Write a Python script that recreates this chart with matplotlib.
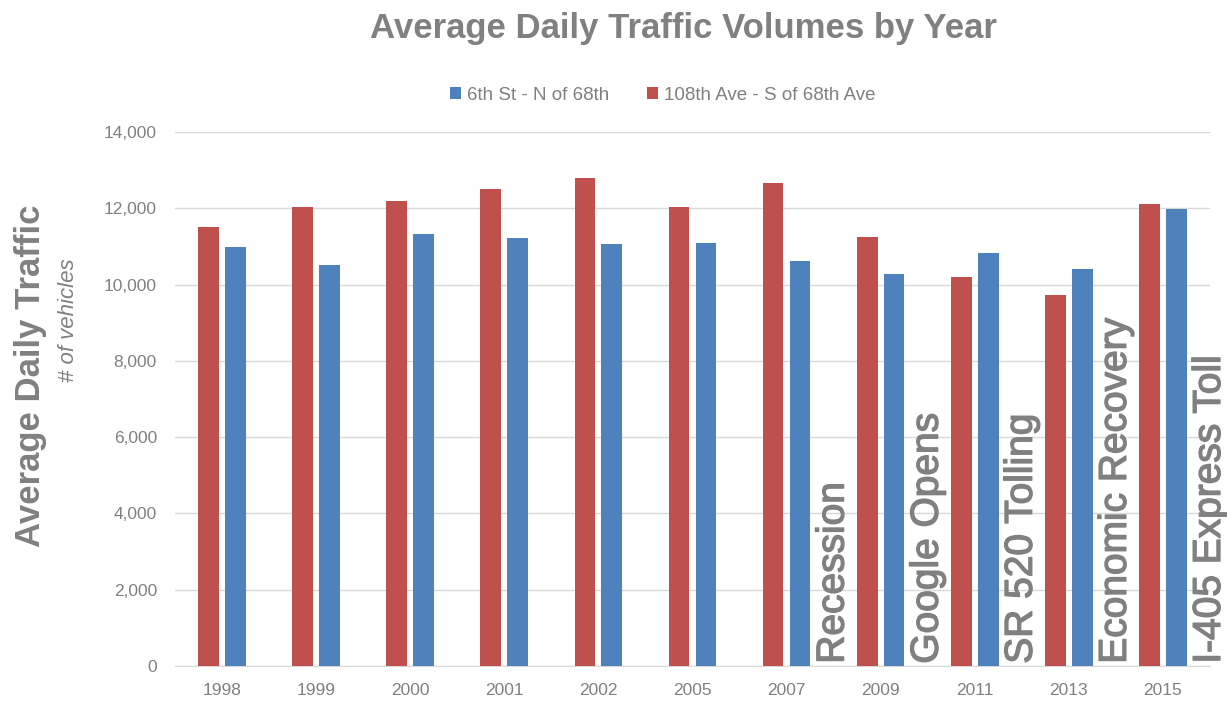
import numpy as np
import matplotlib.pyplot as plt
import matplotlib.patheffects as pe

plt.rcParams['font.family'] = ['Liberation Sans', 'DejaVu Sans']

years = ["1998", "1999", "2000", "2001", "2002", "2005", "2007", "2009", "2011", "2013", "2015"]
ave_108th = [11515, 12045, 12190, 12500, 12805, 12045, 12660, 11240, 10200, 9720, 12120]
st_6th = [10995, 10525, 11330, 11210, 11055, 11100, 10605, 10265, 10830, 10415, 11980]

events = ["Recession", "Google Opens", "SR 520 Tolling", "Economic Recovery", "I-405 Express Toll"]
event_after = ["2007", "2009", "2011", "2013", "2015"]

RED = "#c0504d"
BLUE = "#4f81bd"
GREY = "#808080"

fig = plt.figure(figsize=(12.27, 7.04), dpi=100)
ax = fig.add_axes([0.1426, 0.054, 0.8435, 0.7585])

x = np.arange(len(years))
w = 0.22
ax.bar(x - 0.143, ave_108th, width=w, color=RED, label="108th Ave - S of 68th Ave", zorder=3)
ax.bar(x + 0.143, st_6th, width=w, color=BLUE, label="6th St - N of 68th", zorder=3)

# event labels sit in the gap after each year
for name, yr in zip(events, event_after):
    ax.text(years.index(yr) + 0.5, 60, name, rotation=90, ha="center", va="bottom",
            fontsize=28, color=GREY, zorder=4,
            path_effects=[pe.withStroke(linewidth=1.0, foreground=GREY)])

ax.set_xlim(-0.5, len(years) - 0.5)
ax.set_ylim(0, 14000)
ax.set_yticks(np.arange(0, 14001, 2000))
ax.set_yticklabels([f"{v:,}" for v in range(0, 14001, 2000)])
ax.set_xticks(x)
ax.set_xticklabels(years)
ax.tick_params(axis="both", length=0, labelsize=12.5, labelcolor=GREY)
ax.tick_params(axis="y", pad=13)
ax.tick_params(axis="x", pad=12)
ax.yaxis.grid(True, color="#d9d9d9", linewidth=1, zorder=0)
for side in ["top", "right", "left"]:
    ax.spines[side].set_visible(False)
ax.spines["bottom"].set_color("#d9d9d9")

fig.text(0.557, 0.96, "Average Daily Traffic Volumes by Year", ha="center", va="center",
         fontsize=25, fontweight="bold", color=GREY)
fig.text(0.025, 0.466, "Average Daily Traffic", rotation=90, ha="center", va="center",
         fontsize=25, fontweight="bold", color=GREY)
fig.text(0.0555, 0.545, "# of vehicles", rotation=90, ha="center", va="center",
         fontsize=16, style="italic", color=GREY)

handles, labels = ax.get_legend_handles_labels()
fig.legend(handles[::-1], labels[::-1], loc="center", bbox_to_anchor=(0.54, 0.865), ncol=2,
           frameon=False, fontsize=13.5, labelcolor=GREY, handlelength=0.6, handleheight=0.6,
           handletextpad=0.3, columnspacing=2.0)

fig.savefig("out.png", dpi=100)
